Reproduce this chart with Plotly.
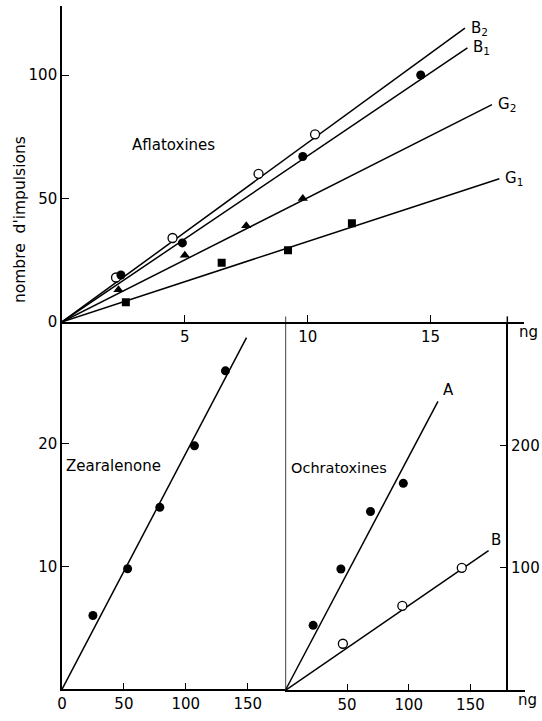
import plotly.graph_objects as go

# ---------------- data ----------------
# Aflatoxines (ng vs nombre d'impulsions)
b2_x = [2.2, 4.5, 8.0, 10.3]
b2_y = [18, 34, 60, 76]
b1_x = [2.4, 4.9, 9.8, 14.6]
b1_y = [19, 32, 67, 100]
g2_x = [2.3, 5.0, 7.5, 9.8]
g2_y = [13, 27, 39, 50]
g1_x = [2.6, 6.5, 9.2, 11.8]
g1_y = [8, 24, 29, 40]
# fitted line ends (lines start at origin)
afla_names = ["B2", "B1", "G2", "G1"]
afla_line_x = [16.4, 16.5, 17.5, 17.8]
afla_line_y = [119, 111, 88, 58]

# Zearalenone
zea_x = [25, 53, 79, 107, 132]
zea_y = [6.0, 9.8, 14.8, 19.8, 25.9]
zea_line_x = [0, 149]
zea_line_y = [0, 28.6]

# Ochratoxines
ochA_x = [22.5, 45, 69, 95.6]
ochA_y = [53, 99, 146, 169]
ochB_x = [46.6, 94.8, 143]
ochB_y = [38, 69, 100]
ochA_line_x = [0, 123.7]
ochA_line_y = [0, 236]
ochB_line_x = [0, 164.7]
ochB_line_y = [0, 114]

# tick labels
afla_xticks = [5, 10, 15]
afla_yticks = [0, 50, 100]
zea_xticks = [0, 50, 100, 150]
zea_yticks = [10, 20]
och_xticks = [50, 100, 150]
och_yticks = [100, 200]

# ---------------- layout helpers ----------------
W, H = 542, 721


def px(x):
    return x / W


def py(y):
    return 1 - y / H


FONT = "DejaVu Sans"
BLACK = "black"
LW = 1.5

fig = go.Figure()

line_style = dict(color=BLACK, width=LW)

# Aflatoxines fitted lines
for name, ex, ey in zip(afla_names, afla_line_x, afla_line_y):
    fig.add_trace(go.Scatter(x=[0, ex], y=[0, ey], mode="lines", line=line_style,
                             xaxis="x", yaxis="y", hoverinfo="skip"))

fig.add_trace(go.Scatter(x=b2_x, y=b2_y, mode="markers", xaxis="x", yaxis="y",
                         marker=dict(symbol="circle", size=9, color="white",
                                     line=dict(color=BLACK, width=1.3))))
fig.add_trace(go.Scatter(x=b1_x, y=b1_y, mode="markers", xaxis="x", yaxis="y",
                         marker=dict(symbol="circle", size=9, color=BLACK)))
fig.add_trace(go.Scatter(x=g2_x, y=g2_y, mode="markers", xaxis="x", yaxis="y",
                         marker=dict(symbol="triangle-up", size=9, color=BLACK)))
fig.add_trace(go.Scatter(x=g1_x, y=g1_y, mode="markers", xaxis="x", yaxis="y",
                         marker=dict(symbol="square", size=8, color=BLACK)))

# Zearalenone
fig.add_trace(go.Scatter(x=zea_line_x, y=zea_line_y, mode="lines", line=line_style,
                         xaxis="x2", yaxis="y2"))
fig.add_trace(go.Scatter(x=zea_x, y=zea_y, mode="markers", xaxis="x2", yaxis="y2",
                         marker=dict(symbol="circle", size=9, color=BLACK)))

# Ochratoxines
fig.add_trace(go.Scatter(x=ochA_line_x, y=ochA_line_y, mode="lines", line=line_style,
                         xaxis="x3", yaxis="y3"))
fig.add_trace(go.Scatter(x=ochB_line_x, y=ochB_line_y, mode="lines", line=line_style,
                         xaxis="x3", yaxis="y3"))
fig.add_trace(go.Scatter(x=ochA_x, y=ochA_y, mode="markers", xaxis="x3", yaxis="y3",
                         marker=dict(symbol="circle", size=9, color=BLACK)))
fig.add_trace(go.Scatter(x=ochB_x, y=ochB_y, mode="markers", xaxis="x3", yaxis="y3",
                         marker=dict(symbol="circle", size=9, color="white",
                                     line=dict(color=BLACK, width=1.3))))

tickfont = dict(family=FONT, size=15, color=BLACK)
common = dict(showgrid=False, zeroline=False, showline=True, linecolor=BLACK,
              linewidth=LW, ticks="inside", ticklen=7, tickwidth=1.2,
              tickcolor=BLACK, tickfont=tickfont, fixedrange=True)

fig.update_layout(
    width=W, height=H, autosize=False,
    margin=dict(l=0, r=0, t=0, b=0),
    paper_bgcolor="white", plot_bgcolor="rgba(0,0,0,0)",
    showlegend=False,
    font=dict(family=FONT, color=BLACK),
    # Aflatoxines
    xaxis=dict(domain=[px(57.5), px(524)], range=[0, (524 - 57.5) / 24.8],
               anchor="y", tickvals=afla_xticks, **common),
    yaxis=dict(domain=[py(326), py(6)], range=[0, (326 - 6) / 2.5],
               anchor="x", tickvals=afla_yticks, **common),
    # Zearalenone
    xaxis2=dict(domain=[px(57.5), px(283)], range=[0, (283 - 57.5) / 1.25],
                anchor="y2", tickvals=zea_xticks, **common),
    yaxis2=dict(domain=[py(698), py(326)], range=[0, (698 - 326) / 12.45],
                anchor="x2", tickvals=zea_yticks, **common),
    # Ochratoxines
    xaxis3=dict(domain=[px(283), px(525)], range=[0, (525 - 283) / 1.245],
                anchor="y3", tickvals=och_xticks, **common),
    yaxis3=dict(domain=[py(699), py(326)], range=[0, (699 - 326) / 1.24],
                anchor="free", position=px(507), side="right",
                tickvals=och_yticks, **common),
)

# left border of the Ochratoxines panel (its y origin line)
fig.add_shape(type="line", xref="x3", yref="y3 domain", x0=0, x1=0, y0=0, y1=1.015,
              line=dict(color=BLACK, width=LW))
fig.add_shape(type="line", xref="paper", yref="y3 domain", x0=px(507), x1=px(507),
              y0=1, y1=1.015, line=dict(color=BLACK, width=LW))

lab = dict(family=FONT, size=15, color=BLACK)
center = dict(xref="paper", yref="paper", xanchor="center", yanchor="middle",
              showarrow=False)
ann = [
    dict(text="Aflatoxines", x=px(170), y=py(147),
         font=dict(family=FONT, size=15, color=BLACK), **center),
    dict(text="Zearalenone", x=px(110), y=py(472),
         font=dict(family=FONT, size=15, color=BLACK), **center),
    dict(text="Ochratoxines", x=px(337), y=py(474),
         font=dict(family=FONT, size=14.5, color=BLACK), **center),
    dict(text="nombre  d'impulsions", x=px(15), y=py(222), textangle=-90,
         font=dict(family=FONT, size=15.5, color=BLACK), **center),
    dict(text="ng", x=px(528), y=py(336), font=lab, **center),
    dict(text="ng", x=px(527), y=py(709), font=lab, **center),
]
for name, ex, ey in zip(afla_names, afla_line_x, afla_line_y):
    ann.append(dict(text=name[0] + "<sub>" + name[1] + "</sub>", x=ex, y=ey,
                    xref="x", yref="y", xanchor="left", yanchor="middle",
                    xshift=4, showarrow=False, font=lab))
ann.append(dict(text="A", x=ochA_line_x[-1], y=ochA_line_y[-1], xref="x3", yref="y3",
                xanchor="left", yanchor="bottom", xshift=3, showarrow=False, font=lab))
ann.append(dict(text="B", x=ochB_line_x[-1], y=ochB_line_y[-1], xref="x3", yref="y3",
                xanchor="left", yanchor="bottom", xshift=0, showarrow=False, font=lab))
fig.update_layout(annotations=ann)

fig.write_html("out.html",
               config={"displayModeBar": False},
               post_script="document.body.style.margin='0px';"
                           "document.body.style.overflow='hidden';")
